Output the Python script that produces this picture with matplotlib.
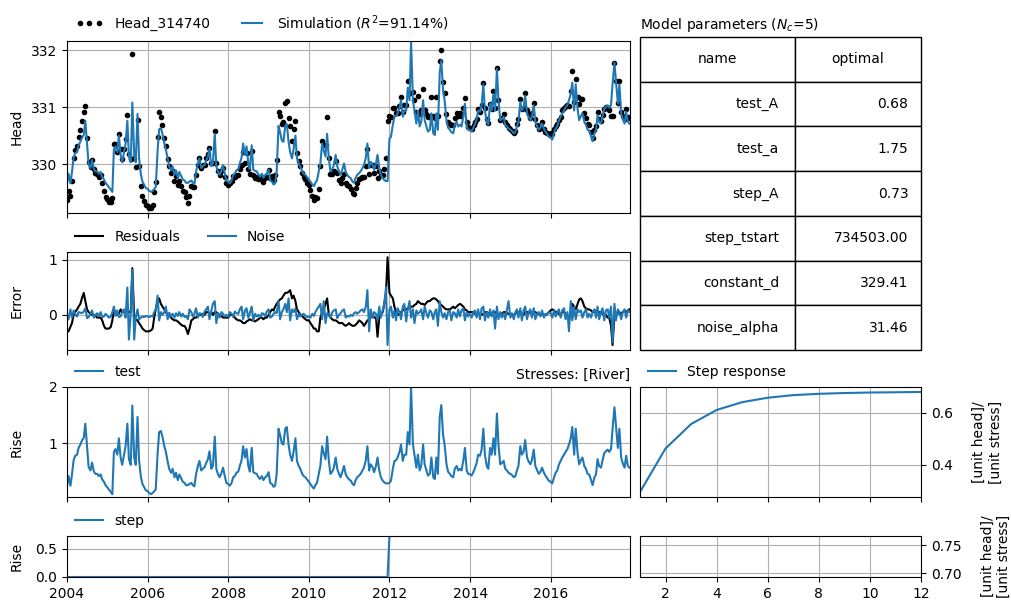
import numpy as np
import pandas as pd
import matplotlib
matplotlib.use("Agg")
import matplotlib.pyplot as plt
import matplotlib.dates as mdates

# model parameters (table)
param_names = ["test_A", "test_a", "step_A", "step_tstart", "constant_d", "noise_alpha"]
param_values = [0.68, 1.75, 0.73, 734503.00, 329.41, 31.46]
constant_d = 329.41
step_A = 0.73
step_start = "2012-01-01"

# semi-monthly series, one row per year 2004..2017
test_rise = [
    [0.25, 0.42, 0.25, 0.45, 0.70, 0.78, 0.80, 0.92, 0.98, 1.05, 1.10, 1.35, 0.95, 0.58, 0.52, 0.66, 0.50, 0.46, 0.46, 0.42, 0.45, 0.36, 0.32, 0.26],
    [0.22, 0.18, 0.14, 0.10, 0.85, 0.90, 0.80, 1.09, 0.75, 0.62, 0.80, 0.95, 1.35, 0.72, 0.62, 1.67, 0.75, 0.62, 1.47, 0.70, 0.40, 0.28, 0.22, 0.17],
    [0.15, 0.12, 0.10, 0.12, 0.15, 0.18, 0.82, 1.20, 1.22, 1.12, 0.95, 0.85, 0.68, 0.55, 0.48, 0.55, 0.40, 0.48, 0.35, 0.45, 0.38, 0.32, 0.30, 0.26],
    [0.26, 0.28, 0.30, 0.26, 0.24, 0.45, 0.60, 0.69, 0.52, 0.55, 0.58, 0.65, 0.72, 0.86, 0.55, 0.60, 1.12, 0.55, 0.45, 0.40, 0.48, 0.57, 0.42, 0.30],
    [0.28, 0.25, 0.30, 0.40, 0.42, 0.48, 0.50, 0.60, 0.70, 0.95, 0.75, 0.90, 0.60, 0.50, 0.92, 0.49, 0.47, 0.46, 0.40, 0.37, 0.42, 0.35, 0.40, 0.42],
    [0.49, 0.30, 0.28, 0.23, 0.25, 0.46, 1.26, 1.15, 1.00, 0.98, 1.26, 1.29, 0.98, 0.80, 0.69, 0.85, 1.09, 0.69, 0.60, 0.55, 0.46, 0.42, 0.40, 0.36],
    [0.32, 0.28, 0.23, 0.20, 0.26, 0.30, 0.46, 0.60, 0.95, 0.83, 0.72, 1.12, 0.69, 0.46, 0.50, 0.57, 0.75, 0.55, 0.46, 0.40, 0.50, 0.60, 0.45, 0.40],
    [0.36, 0.34, 0.28, 0.26, 0.35, 0.40, 0.43, 0.46, 0.52, 0.57, 0.70, 0.95, 0.52, 0.63, 0.58, 0.49, 0.60, 0.75, 0.52, 0.40, 0.34, 0.31, 0.29, 0.29],
    [0.30, 0.34, 0.55, 0.69, 0.70, 0.75, 0.85, 0.98, 0.69, 0.80, 0.80, 1.20, 0.98, 2.00, 0.98, 0.80, 0.57, 0.80, 0.52, 0.60, 0.98, 0.63, 0.52, 0.43],
    [0.46, 0.75, 0.40, 0.37, 0.75, 0.46, 1.47, 1.68, 1.15, 0.98, 0.63, 0.50, 0.46, 0.42, 0.40, 0.55, 0.60, 0.52, 0.55, 0.52, 0.70, 0.92, 0.52, 0.46],
    [0.45, 0.43, 0.50, 0.57, 0.65, 0.80, 0.78, 0.89, 1.26, 0.80, 0.60, 0.55, 0.92, 0.80, 1.09, 0.80, 1.53, 0.98, 0.63, 0.65, 0.69, 0.55, 0.52, 0.48],
    [0.46, 0.44, 0.40, 0.42, 0.52, 0.60, 0.95, 0.80, 0.85, 1.06, 0.75, 0.68, 0.63, 0.70, 0.89, 0.60, 0.52, 0.46, 0.50, 0.57, 0.48, 0.43, 0.38, 0.34],
    [0.32, 0.29, 0.40, 0.48, 0.52, 0.62, 0.69, 0.75, 0.80, 0.85, 0.90, 0.98, 1.09, 1.29, 0.80, 1.26, 0.83, 0.63, 0.70, 0.75, 0.60, 0.55, 0.46, 0.45],
    [0.35, 0.26, 0.40, 0.45, 0.72, 0.60, 0.57, 0.70, 0.83, 0.86, 0.89, 0.85, 0.90, 1.26, 1.64, 1.32, 0.92, 1.26, 0.75, 0.65, 0.57, 0.78, 0.60, 0.57],
]

residuals = [
    [-0.30, -0.30, -0.22, -0.15, 0.00, 0.05, 0.10, 0.15, 0.20, 0.30, 0.40, 0.25, 0.10, 0.05, 0.02, 0.00, 0.00, -0.02, -0.05, -0.05, -0.05, -0.10, -0.20, -0.25],
    [-0.25, -0.25, -0.22, -0.10, 0.10, 0.05, 0.00, 0.02, 0.10, 0.05, 0.05, 0.08, 0.10, 0.05, 0.05, 0.85, -0.05, -0.08, -0.10, -0.15, -0.20, -0.25, -0.28, -0.30],
    [-0.30, -0.30, -0.28, -0.25, -0.05, 0.10, 0.25, 0.30, 0.20, 0.15, 0.10, 0.05, 0.00, 0.00, -0.05, -0.08, -0.10, -0.10, -0.12, -0.15, -0.18, -0.20, -0.20, -0.25],
    [-0.35, -0.25, -0.10, -0.08, -0.05, -0.05, -0.02, 0.00, 0.00, 0.02, 0.00, 0.05, 0.05, 0.02, 0.05, 0.00, 0.05, 0.05, 0.02, 0.00, -0.02, -0.05, -0.05, -0.05],
    [-0.05, 0.00, 0.00, -0.02, -0.05, -0.08, -0.10, -0.10, -0.12, -0.15, -0.15, -0.12, -0.10, -0.08, -0.10, -0.10, -0.12, -0.10, -0.08, -0.05, -0.05, -0.08, -0.05, -0.05],
    [0.00, 0.05, 0.10, 0.08, 0.15, 0.20, 0.25, 0.28, 0.30, 0.35, 0.40, 0.40, 0.42, 0.45, 0.30, 0.35, 0.25, 0.10, 0.05, 0.00, -0.02, -0.05, -0.08, -0.10],
    [-0.10, -0.15, -0.20, -0.25, -0.25, -0.30, -0.30, -0.05, 0.05, 0.10, 0.20, 0.30, 0.00, -0.05, -0.08, -0.10, -0.10, -0.12, -0.15, -0.15, -0.15, -0.18, -0.20, -0.18],
    [-0.15, -0.18, -0.20, -0.20, -0.18, -0.15, -0.10, -0.12, -0.15, -0.20, -0.15, -0.10, -0.10, -0.05, 0.00, -0.05, -0.05, -0.40, -0.05, 0.00, 0.05, 0.20, 0.40, 1.05],
    [0.40, 0.35, 0.30, 0.15, 0.05, 0.00, 0.02, 0.05, 0.08, 0.10, 0.10, 0.12, 0.12, 0.15, 0.15, 0.18, 0.20, 0.25, 0.22, 0.20, 0.20, 0.18, 0.22, 0.25],
    [0.25, 0.28, 0.30, 0.30, 0.28, 0.25, 0.20, 0.18, 0.15, 0.12, 0.10, 0.10, 0.10, 0.12, 0.15, 0.12, 0.15, 0.18, 0.20, 0.18, 0.15, 0.10, 0.08, 0.05],
    [0.05, 0.05, 0.05, 0.02, 0.00, 0.02, 0.00, 0.00, 0.02, 0.05, 0.05, 0.03, 0.00, 0.02, 0.05, 0.05, 0.02, 0.00, 0.00, 0.02, 0.05, 0.05, 0.03, 0.02],
    [0.02, 0.00, 0.00, 0.02, 0.05, 0.05, 0.05, 0.02, 0.00, 0.05, 0.05, 0.05, 0.03, 0.05, 0.05, 0.05, 0.03, 0.02, 0.00, 0.02, 0.00, 0.00, 0.02, 0.05],
    [0.08, 0.10, 0.08, 0.05, 0.05, 0.02, 0.00, 0.05, 0.05, 0.02, 0.00, -0.10, 0.05, 0.20, 0.15, 0.10, 0.20, 0.28, 0.30, 0.25, 0.15, 0.12, 0.10, 0.10],
    [0.08, 0.05, 0.05, 0.08, 0.05, 0.05, 0.05, 0.02, 0.00, 0.00, -0.05, -0.05, -0.20, -0.55, 0.00, 0.00, 0.02, 0.05, 0.02, 0.05, 0.08, 0.05, 0.08, 0.10],
]

noise = [
    [0.00, -0.08, 0.10, -0.05, 0.08, 0.02, -0.03, 0.05, 0.04, 0.03, 0.06, 0.12, -0.06, -0.04, 0.02, 0.08, -0.05, 0.00, 0.03, -0.02, 0.05, -0.04, -0.03, 0.02],
    [-0.02, -0.05, -0.03, 0.05, 0.15, -0.02, 0.08, -0.04, -0.03, 0.05, 0.10, -0.05, 0.50, -0.45, 0.05, 0.82, -0.45, -0.05, 0.10, -0.08, -0.05, -0.03, -0.04, -0.02],
    [-0.03, -0.04, -0.02, -0.03, 0.05, 0.08, 0.35, -0.10, 0.05, 0.00, 0.05, 0.15, -0.08, 0.04, -0.03, 0.02, -0.05, 0.03, -0.02, 0.05, -0.03, 0.02, -0.04, -0.02],
    [-0.08, 0.10, 0.05, -0.03, 0.02, 0.12, -0.05, 0.03, 0.02, -0.04, 0.06, 0.10, 0.15, -0.08, 0.08, 0.20, 0.25, -0.15, 0.03, -0.05, 0.05, 0.02, -0.03, 0.00],
    [-0.03, 0.05, 0.02, -0.04, 0.06, 0.03, 0.02, 0.10, 0.15, -0.08, 0.08, 0.12, -0.05, 0.03, 0.15, -0.10, 0.02, -0.03, 0.00, -0.04, 0.03, 0.02, -0.02, 0.06],
    [0.10, -0.05, -0.03, 0.02, 0.05, 0.03, 0.25, -0.08, 0.05, 0.10, 0.20, 0.05, 0.30, -0.10, 0.10, 0.05, 0.12, -0.08, 0.02, -0.03, 0.00, 0.02, -0.02, -0.04],
    [-0.03, -0.05, 0.02, -0.02, 0.05, 0.10, 0.15, 0.20, -0.08, 0.25, -0.15, 0.03, 0.02, -0.05, 0.05, 0.08, 0.10, -0.06, 0.00, 0.03, 0.08, 0.10, -0.05, -0.02],
    [-0.03, 0.00, -0.02, 0.03, 0.05, 0.02, 0.05, 0.08, 0.10, 0.05, 0.15, 0.45, -0.30, 0.10, -0.05, 0.05, 0.02, -0.10, 0.15, -0.05, 0.08, 0.20, 0.50, -0.55],
    [0.10, 0.15, -0.05, 0.08, -0.10, 0.12, 0.05, -0.08, 0.15, 0.20, -0.12, 0.10, 0.25, -0.05, 0.10, -0.15, 0.08, 0.02, 0.05, 0.10, -0.08, 0.15, 0.03, -0.05],
    [0.08, 0.05, -0.08, 0.05, 0.10, -0.20, 0.25, 0.05, -0.05, 0.03, -0.08, 0.05, 0.08, -0.10, 0.05, 0.03, -0.05, 0.10, -0.03, 0.08, 0.12, -0.10, 0.05, -0.03],
    [0.02, -0.05, 0.05, 0.08, -0.05, 0.10, -0.08, 0.12, 0.15, -0.10, 0.05, -0.05, 0.10, -0.03, 0.08, -0.25, 0.15, -0.08, 0.05, -0.05, 0.03, -0.08, 0.10, 0.25],
    [-0.05, 0.03, -0.08, 0.05, 0.10, -0.05, 0.12, -0.10, 0.08, 0.15, -0.08, 0.05, 0.10, -0.05, 0.12, -0.08, 0.02, 0.05, -0.03, 0.08, -0.05, 0.02, 0.00, 0.05],
    [0.03, -0.05, 0.08, -0.03, 0.05, 0.10, -0.05, 0.08, 0.12, -0.08, 0.05, -0.30, 0.25, -0.10, 0.15, -0.08, 0.10, 0.05, 0.08, -0.05, 0.05, 0.10, -0.05, 0.02],
    [-0.05, 0.05, 0.10, -0.05, 0.15, -0.08, 0.05, 0.12, -0.10, 0.08, 0.10, -0.05, 0.15, -0.50, 0.20, -0.10, 0.10, 0.05, -0.08, 0.05, 0.10, -0.05, 0.08, 0.05],
]

# step response of the "test" stress
resp_t = [1, 2, 3, 4, 5, 6, 7, 8, 9, 10, 11, 12]
resp_step = [0.296, 0.463, 0.557, 0.611, 0.641, 0.658, 0.668, 0.673, 0.676, 0.678, 0.679, 0.680]

dates = pd.date_range("2004-01-01", "2017-12-31", freq="SMS")
test = np.concatenate(test_rise)
res = np.concatenate(residuals)
nse = np.concatenate(noise)
step = np.where(dates >= pd.Timestamp(step_start), step_A, 0.0)
sim = constant_d + test + step
obs = sim + res

W, H = 1011, 611
fig = plt.figure(figsize=(W / 100, H / 100), dpi=100)


def box(l, t, r, b, **kw):
    return fig.add_axes([l / W, 1 - b / H, (r - l) / W, (b - t) / H], **kw)


ax1 = box(67, 41, 630, 213)
ax2 = box(67, 252, 630, 350, sharex=ax1)
ax3 = box(67, 387, 630, 497, sharex=ax1)
ax4 = box(67, 536, 630, 577, sharex=ax1)
axt = box(640, 37, 921, 350)
axr1 = box(640, 387, 921, 497)
axr2 = box(640, 536, 921, 577, sharex=axr1)

leg_kw = dict(loc="lower left", bbox_to_anchor=(0, 1), ncol=2, frameon=False, borderaxespad=0.2)

ax1.plot(dates, obs, marker="o", ms=3, ls="none", color="k", label="Head_314740")
ax1.plot(dates, sim, color="C0", label=r"Simulation ($R^2$=91.14%)")
ax1.set_ylim(329.14, 332.16)
ax1.set_yticks([330, 331, 332])
ax1.set_ylabel("Head")
ax1.legend(numpoints=3, **leg_kw)

ax2.plot(dates, res, color="k", label="Residuals")
ax2.plot(dates, nse, color="C0", label="Noise")
ax2.set_ylim(-0.64, 1.145)
ax2.set_yticks([0, 1])
ax2.set_ylabel("Error")
ax2.legend(**leg_kw)

ax3.plot(dates, test, color="C0", label="test")
ax3.set_ylim(0.05, 2.0)
ax3.set_yticks([1, 2])
ax3.set_ylabel("Rise")
ax3.set_title("Stresses: [River]", loc="right", fontsize=10)
ax3.legend(**leg_kw)

ax4.plot(dates, step, color="C0", label="step")
ax4.set_ylim(0, 0.73)
ax4.set_yticks([0.0, 0.5])
ax4.set_ylabel("Rise")
ax4.legend(**leg_kw)

ax1.set_xlim(pd.Timestamp("2004-01-01"), pd.Timestamp("2017-12-20"))
ax4.xaxis.set_major_locator(mdates.YearLocator(2))
ax4.xaxis.set_major_formatter(mdates.DateFormatter("%Y"))
for ax in (ax1, ax2, ax3, ax4):
    ax.grid(True)
    ax.yaxis.set_label_coords(-0.077, 0.5)
for ax in (ax1, ax2, ax3):
    ax.tick_params(labelbottom=False)

# parameter table
cells = [[n, f"{v:.2f}"] for n, v in zip(param_names, param_values)]
tab = axt.table(cellText=cells, colLabels=["name", "optimal"], cellLoc="right",
                colLoc="center", colWidths=[0.55, 0.45], bbox=[0, 0, 1, 1])
tab.auto_set_font_size(False)
tab.set_fontsize(10)
axt.axis("off")
axt.set_title(r"Model parameters ($N_c$=5)", loc="left", fontsize=10)

# step responses
axr1.plot(resp_t, resp_step, color="C0", label="Step response")
axr1.set_xlim(1, 12)
axr1.set_yticks([0.4, 0.6])
axr1.legend(**leg_kw)
axr1.tick_params(labelbottom=False)
axr2.set_ylim(0.6935, 0.7665)
axr2.set_yticks([0.70, 0.75])
axr2.set_xticks([2, 4, 6, 8, 10, 12])
for ax in (axr1, axr2):
    ax.grid(True)
    ax.yaxis.tick_right()
    ax.yaxis.set_label_position("right")
    ax.set_ylabel("[unit head]/\n[unit stress]", labelpad=14)

fig.savefig("out.png", dpi=100)
